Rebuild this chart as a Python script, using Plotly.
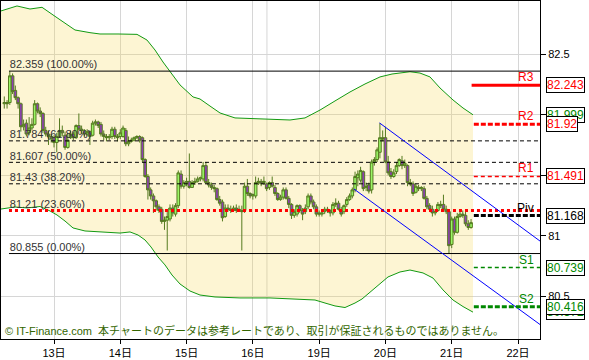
import plotly.graph_objects as go

# ---- time axis (hours from 13日 00:00, trading hours only) ----
hours = list(range(-18, 152))
day_ticks = [0, 24, 48, 72, 96, 120, 144, 168]
day_labels = ["13日", "14日", "15日", "16日", "19日", "20日", "21日", "22日"]
week_break = 77.1

# ---- hourly candles (prices) ----
opens = [
    82.09, 82.10, 82.10, 82.32, 82.20, 82.14, 82.09, 81.90, 81.93, 81.85,
    81.89, 81.92, 82.09, 82.03, 82.01, 81.87, 81.84, 81.82, 81.81, 81.77,
    81.82, 81.87, 81.83, 81.73, 81.81, 81.84, 81.81, 81.91, 81.88, 81.87,
    81.84, 81.86, 81.83, 81.93, 81.94, 81.92, 81.84, 81.82, 81.81, 81.82,
    81.88, 81.82, 81.82, 81.82, 81.87, 81.76, 81.78, 81.79, 81.81, 81.82,
    81.81, 81.63, 81.49, 81.38, 81.33, 81.29, 81.24, 81.22, 81.12, 81.13,
    81.14, 81.23, 81.18, 81.25, 81.51, 81.41, 81.44, 81.45, 81.40, 81.44,
    81.45, 81.47, 81.47, 81.58, 81.44, 81.42, 81.40, 81.39, 81.30, 81.28,
    81.16, 81.23, 81.22, 81.21, 81.23, 81.21, 81.21, 81.21, 81.41, 81.35,
    81.33, 81.33, 81.44, 81.45, 81.44, 81.43, 81.40, 81.44, 81.40, 81.35,
    81.30, 81.32, 81.38, 81.31, 81.26, 81.17, 81.18, 81.25, 81.21, 81.20,
    81.24, 81.33, 81.28, 81.24, 81.19, 81.18, 81.20, 81.22, 81.21, 81.19,
    81.26, 81.27, 81.21, 81.20, 81.26, 81.30, 81.33, 81.38, 81.48, 81.46,
    81.53, 81.40, 81.42, 81.38, 81.61, 81.63, 81.69, 81.81, 81.81, 81.61,
    81.53, 81.49, 81.53, 81.58, 81.62, 81.58, 81.58, 81.44, 81.43, 81.36,
    81.40, 81.39, 81.39, 81.31, 81.25, 81.22, 81.19, 81.21, 81.26, 81.26,
    81.22, 81.20, 80.93, 81.14, 81.03, 81.16, 81.18, 81.17, 81.10, 81.07,
]
highs = [
    82.15, 82.12, 82.359, 82.34, 82.24, 82.15, 82.10, 81.96, 81.96, 81.98,
    81.97, 82.12, 82.10, 82.06, 82.02, 81.90, 81.87, 81.84, 81.83, 81.85,
    81.97, 81.91, 81.86, 81.85, 81.87, 81.86, 81.92, 82.01, 81.91, 81.88,
    81.88, 81.87, 81.95, 81.96, 81.95, 81.94, 81.87, 81.84, 81.84, 81.90,
    81.90, 81.84, 81.88, 81.91, 81.89, 81.82, 81.81, 81.82, 81.83, 81.83,
    81.82, 81.64, 81.51, 81.40, 81.35, 81.30, 81.26, 81.24, 81.16, 81.20,
    81.26, 81.26, 81.27, 81.54, 81.54, 81.46, 81.48, 81.68, 81.46, 81.48,
    81.49, 81.49, 81.61, 81.61, 81.47, 81.44, 81.42, 81.40, 81.33, 81.30,
    81.26, 81.26, 81.25, 81.25, 81.26, 81.25, 81.25, 81.44, 81.47, 81.36,
    81.35, 81.49, 81.48, 81.47, 81.49, 81.44, 81.45, 81.49, 81.42, 81.36,
    81.34, 81.40, 81.40, 81.33, 81.27, 81.22, 81.26, 81.26, 81.23, 81.26,
    81.35, 81.35, 81.30, 81.26, 81.21, 81.21, 81.24, 81.24, 81.22, 81.28,
    81.31, 81.29, 81.24, 81.26, 81.32, 81.35, 81.40, 81.53, 81.54, 81.57,
    81.54, 81.44, 81.44, 81.63, 81.65, 81.73, 81.93, 81.87, 81.90, 81.66,
    81.56, 81.55, 81.61, 81.64, 81.66, 81.63, 81.59, 81.47, 81.45, 81.43,
    81.42, 81.41, 81.41, 81.33, 81.27, 81.25, 81.22, 81.28, 81.29, 81.34,
    81.25, 81.21, 81.16, 81.16, 81.19, 81.21, 81.21, 81.20, 81.13, 81.14,
]
lows = [
    82.05, 82.05, 82.08, 82.17, 82.12, 82.05, 81.86, 81.87, 81.82, 81.83,
    81.87, 81.91, 82.01, 81.98, 81.85, 81.82, 81.75, 81.77, 81.73, 81.69,
    81.81, 81.82, 81.71, 81.72, 81.80, 81.79, 81.80, 81.87, 81.84, 81.82,
    81.82, 81.75, 81.82, 81.91, 81.89, 81.82, 81.79, 81.78, 81.79, 81.80,
    81.80, 81.78, 81.80, 81.81, 81.74, 81.74, 81.77, 81.78, 81.80, 81.77,
    81.61, 81.48, 81.30, 81.30, 81.19, 81.21, 81.19, 81.10, 81.05, 80.88,
    81.12, 81.16, 81.16, 81.23, 81.39, 81.39, 81.41, 81.39, 81.40, 81.42,
    81.44, 81.45, 81.45, 81.43, 81.40, 81.38, 81.36, 81.29, 81.25, 81.12,
    81.15, 81.20, 81.19, 81.20, 81.19, 81.20, 80.88, 81.19, 81.33, 81.31,
    81.30, 81.31, 81.42, 81.41, 81.42, 81.37, 81.38, 81.40, 81.33, 81.29,
    81.29, 81.30, 81.30, 81.23, 81.14, 81.15, 81.16, 81.19, 81.13, 81.18,
    81.22, 81.26, 81.22, 81.16, 81.16, 81.16, 81.18, 81.19, 81.16, 81.17,
    81.24, 81.21, 81.16, 81.18, 81.24, 81.29, 81.31, 81.36, 81.41, 81.44,
    81.37, 81.37, 81.35, 81.35, 81.58, 81.61, 81.64, 81.78, 81.60, 81.50,
    81.47, 81.48, 81.51, 81.57, 81.55, 81.56, 81.41, 81.41, 81.33, 81.35,
    81.37, 81.37, 81.30, 81.22, 81.21, 81.16, 81.17, 81.20, 81.23, 81.21,
    81.18, 80.855, 80.90, 81.01, 81.02, 81.15, 81.15, 81.08, 81.05, 81.06,
]
closes = [
    82.10, 82.09, 82.32, 82.19, 82.14, 82.09, 81.90, 81.92, 81.84, 81.89,
    81.92, 82.09, 82.03, 82.01, 81.87, 81.84, 81.82, 81.80, 81.77, 81.82,
    81.87, 81.85, 81.73, 81.79, 81.84, 81.81, 81.91, 81.88, 81.87, 81.84,
    81.86, 81.82, 81.93, 81.94, 81.91, 81.84, 81.82, 81.81, 81.82, 81.88,
    81.82, 81.81, 81.85, 81.89, 81.76, 81.78, 81.79, 81.81, 81.82, 81.79,
    81.63, 81.49, 81.38, 81.33, 81.29, 81.24, 81.21, 81.12, 81.13, 81.16,
    81.23, 81.19, 81.25, 81.52, 81.41, 81.44, 81.45, 81.40, 81.44, 81.45,
    81.47, 81.48, 81.58, 81.44, 81.42, 81.40, 81.39, 81.30, 81.27, 81.15,
    81.23, 81.22, 81.21, 81.23, 81.21, 81.22, 81.20, 81.41, 81.35, 81.33,
    81.34, 81.44, 81.45, 81.43, 81.45, 81.39, 81.44, 81.41, 81.35, 81.30,
    81.32, 81.38, 81.31, 81.26, 81.17, 81.20, 81.25, 81.21, 81.18, 81.23,
    81.33, 81.28, 81.24, 81.18, 81.18, 81.19, 81.22, 81.21, 81.19, 81.26,
    81.27, 81.22, 81.18, 81.25, 81.30, 81.33, 81.38, 81.49, 81.51, 81.54,
    81.39, 81.41, 81.37, 81.61, 81.63, 81.71, 81.81, 81.80, 81.61, 81.52,
    81.49, 81.52, 81.58, 81.63, 81.58, 81.60, 81.44, 81.43, 81.35, 81.41,
    81.39, 81.40, 81.31, 81.24, 81.22, 81.19, 81.20, 81.26, 81.25, 81.22,
    81.20, 80.92, 81.14, 81.03, 81.16, 81.18, 81.17, 81.10, 81.07, 81.11,
]

# ---- Bollinger bands ----
band_up_x = [-19.2, -15.93, -13.40, -8.69, -4.34, -0.36, 4.71, 7.60, 13.03, 16.65,
             23.17, 30.05, 33.67, 36.57, 39.46, 42.0, 45.62, 50.33, 52.86, 56.48,
             60.1, 65.53, 74.58, 85.45, 90.88, 96.31, 101.74, 107.17, 112.6, 118.03,
             122.38, 125.27, 128.89, 132.51, 136.13, 139.75, 144.46, 148.08, 151.7]
band_up = [82.855, 82.879, 82.896, 82.871, 82.885, 82.822, 82.739, 82.698, 82.676, 82.665,
           82.665, 82.662, 82.615, 82.533, 82.434, 82.352, 82.245, 82.146, 82.129, 82.071,
           82.014, 81.973, 81.964, 81.956, 81.973, 82.038, 82.113, 82.187, 82.253, 82.311,
           82.335, 82.346, 82.354, 82.343, 82.311, 82.220, 82.121, 82.055, 81.999]
band_lo_x = [-19.2, -14.12, -9.78, -5.07, -1.45, 1.09, 3.98, 6.88, 11.22, 16.65,
             23.9, 27.52, 30.41, 32.95, 35.12, 37.65, 40.19, 42.72, 45.62, 49.24,
             52.86, 58.29, 67.34, 78.2, 89.07, 94.5, 98.12, 101.74, 105.36, 108.98,
             111.51, 116.22, 120.93, 125.27, 128.89, 133.6, 137.22, 140.84, 144.46, 148.08, 151.7]
band_lo = [81.222, 81.239, 81.231, 81.243, 81.206, 81.173, 81.123, 81.066, 81.041, 81.033,
           81.024, 81.033, 81.008, 80.967, 80.909, 80.827, 80.761, 80.678, 80.604, 80.546,
           80.513, 80.497, 80.489, 80.489, 80.480, 80.472, 80.447, 80.423, 80.410, 80.447,
           80.480, 80.571, 80.662, 80.703, 80.719, 80.695, 80.653, 80.555, 80.472, 80.418, 80.372]

# ---- Fibonacci retracement ----
fib_start = -16.3
fib_levels = [82.359, 81.784, 81.607, 81.43, 81.21, 80.855]
fib_labels = ["82.359 (100.00%)", "81.784 (61.80%)", "81.607 (50.00%)",
              "81.43 (38.20%)", "81.21 (23.60%)", "80.855 (0.00%)"]

# ---- pivots ----
pivot_start = 152.0
pivot_names = ["R3", "R2", "R1", "Piv", "S1", "S2"]
pivot_values = [82.243, 81.92, 81.491, 81.168, 80.739, 80.416]
pivot_texts = ["82.243", "81.92", "81.491", "81.168", "80.739", "80.416"]

# ---- trend channel ----
chan_up_x = [117.85, 175.96]
chan_up = [81.932, 80.958]
chan_lo_x = [108.6, 175.96]
chan_lo = [81.387, 80.270]

X0, X1 = -19.19, 175.96
Y0, Y1 = 80.1505, 82.937

RED = "#ff0000"
GREEN = "#008800"
BAND_LINE = "#129a12"
BASE_FONT = "Liberation Sans, Arial, Noto Sans CJK JP, sans-serif"

fig = go.Figure()

# band
fig.add_trace(go.Scatter(x=band_lo_x, y=band_lo, mode="lines",
                         line=dict(color=BAND_LINE, width=1), hoverinfo="skip"))
fig.add_trace(go.Scatter(x=band_up_x, y=band_up, mode="lines", fill="tonexty",
                         fillcolor="rgba(245,212,70,0.24)",
                         line=dict(color=BAND_LINE, width=1), hoverinfo="skip"))

# fib labels (under candles)
fig.add_trace(go.Scatter(x=[fib_start + 0.3] * len(fib_levels), y=fib_levels,
                         mode="text", text=fib_labels, textposition="top right",
                         textfont=dict(family=BASE_FONT, size=11, color="#333333"),
                         hoverinfo="skip"))

# candles
fig.add_trace(go.Candlestick(
    x=hours, open=opens, high=highs, low=lows, close=closes,
    increasing=dict(fillcolor="#7dff6f", line=dict(color="#235f14", width=1)),
    decreasing=dict(fillcolor="#6c10d6", line=dict(color="#235f14", width=1)),
    whiskerwidth=0, hoverinfo="skip"))

# fib lines
fib_styles = [
    dict(color="#000000", width=1, dash="solid"),
    dict(color="#000000", width=1, dash="4px,3px"),
    dict(color="#000000", width=1, dash="4px,3px"),
    dict(color="#000000", width=1, dash="4px,3px"),
    dict(color=RED, width=3, dash="3px,3px"),
    dict(color="#000000", width=1, dash="solid"),
]
for lvl, st in zip(fib_levels, fib_styles):
    fig.add_trace(go.Scatter(x=[fib_start, X1], y=[lvl, lvl], mode="lines",
                             line=st, hoverinfo="skip"))

# channel
fig.add_trace(go.Scatter(x=chan_up_x, y=chan_up, mode="lines",
                         line=dict(color="#0000ff", width=1), hoverinfo="skip"))
fig.add_trace(go.Scatter(x=chan_lo_x, y=chan_lo, mode="lines",
                         line=dict(color="#0000ff", width=1), hoverinfo="skip"))

# pivot lines
pivot_styles = [
    dict(color=RED, width=3, dash="solid"),
    dict(color=RED, width=3, dash="5px,2px"),
    dict(color=RED, width=1.5, dash="4px,3px"),
    dict(color="#000000", width=3, dash="5px,2px"),
    dict(color=GREEN, width=1.5, dash="4px,3px"),
    dict(color=GREEN, width=3, dash="5px,2px"),
]
pivot_colors = [RED, RED, RED, "#000000", GREEN, GREEN]
for i, (v, st) in enumerate(zip(pivot_values, pivot_styles)):
    x0 = pivot_start - 0.8 if i == 0 else pivot_start
    fig.add_trace(go.Scatter(x=[x0, X1], y=[v, v], mode="lines",
                             line=st, hoverinfo="skip"))

annotations = []
for name, v, c in zip(pivot_names, pivot_values, pivot_colors):
    annotations.append(dict(xref="paper", yref="y", x=1, y=v, xshift=-4,
                            xanchor="right", yanchor="bottom", yshift=-1,
                            text=name, showarrow=False,
                            font=dict(family=BASE_FONT, size=12, color=c)))

# right-side value boxes (drawn in order; later ones on top)
box_values = [band_up[-1], pivot_values[0], pivot_values[1], pivot_values[2],
              pivot_values[3], pivot_values[4], band_lo[-1], pivot_values[5]]
box_texts = ["%.3f" % band_up[-1]] + pivot_texts[:5] + ["%.3f" % band_lo[-1], pivot_texts[5]]
box_colors = [GREEN, RED, RED, RED, "#000000", GREEN, GREEN, GREEN]
for v, t, c in zip(box_values, box_texts, box_colors):
    annotations.append(dict(xref="paper", yref="y", x=1, y=v, xshift=6,
                            xanchor="left", yanchor="middle", text=t,
                            showarrow=False, bgcolor="white", bordercolor="black",
                            borderwidth=1, borderpad=0,
                            font=dict(family=BASE_FONT, size=12, color=c)))

annotations.append(dict(xref="paper", yref="paper", x=0, y=0, xshift=2,
                        xanchor="left", yanchor="bottom", yshift=0,
                        text="© IT-Finance.com  本チャートのデータは参考レートであり、取引が保証されるものではありません。",
                        showarrow=False,
                        font=dict(family=BASE_FONT, size=11, color="#336600")))

fig.update_layout(
    width=589, height=360,
    margin=dict(l=1, r=49, t=1, b=21),
    paper_bgcolor="white", plot_bgcolor="white",
    showlegend=False, boxgap=0.05, boxgroupgap=0,
    annotations=annotations,
    shapes=[dict(type="line", xref="x", yref="paper", x0=week_break, x1=week_break,
                 y0=0, y1=1, layer="below", line=dict(color="#d6d6d6", width=1))],
    xaxis=dict(range=[X0, X1], tickvals=day_ticks, ticktext=day_labels,
               ticks="outside", ticklen=4, tickcolor="black",
               showgrid=True, gridcolor="#d6d6d6", gridwidth=1,
               showline=True, linecolor="black", linewidth=1, mirror=True,
               zeroline=False, rangeslider=dict(visible=False),
               tickfont=dict(family=BASE_FONT, size=11, color="black")),
    yaxis=dict(range=[Y0, Y1], side="right", tick0=0, dtick=0.5,
               ticks="outside", ticklen=5, tickcolor="black",
               showgrid=True, gridcolor="#d6d6d6", gridwidth=1,
               showline=True, linecolor="black", linewidth=1, mirror=True,
               zeroline=False,
               tickfont=dict(family=BASE_FONT, size=11, color="black")),
)

fig.write_html("out.html", config={"displayModeBar": False},
               post_script="document.body.style.margin='0';document.body.style.padding='0';")
